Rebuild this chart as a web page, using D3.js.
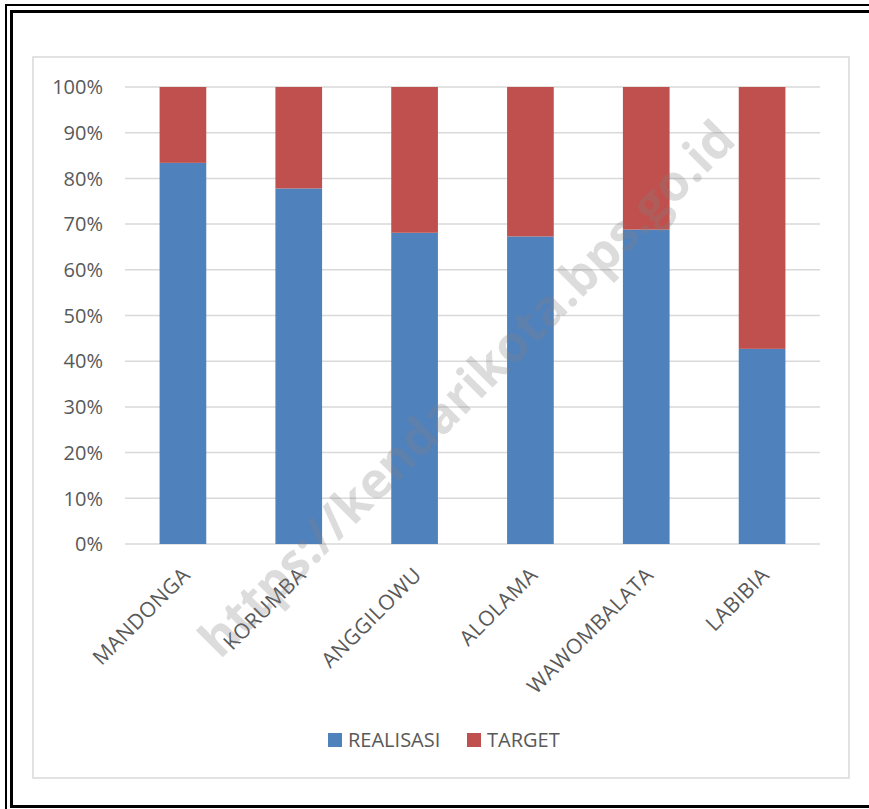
<!DOCTYPE html>
<html>
<head>
<meta charset="utf-8">
<script src="https://cdn.jsdelivr.net/npm/d3@7"></script>
<style>
  body { margin: 0; background: #fff; }
  svg { display: block; }
  text { font-family: "Open Sans", "Liberation Sans", sans-serif; }
</style>
</head>
<body>
<svg width="869" height="809"></svg>
<script>
// data (share of REALISASI in %, TARGET is the rest)
let categories = ["MANDONGA", "KORUMBA", "ANGGILOWU", "ALOLAMA", "WAWOMBALATA", "LABIBIA"];
let realisasi = [83.4, 77.8, 68.1, 67.3, 68.8, 42.7];
let target = realisasi.map(v => 100 - v);
let seriesNames = ["REALISASI", "TARGET"];
let seriesColors = ["#4F81BD", "#C0504D"];
let yTicks = [0, 10, 20, 30, 40, 50, 60, 70, 80, 90, 100];
let watermark = "https://kendarikota.bps.go.id";

let svg = d3.select("svg");

// double frame round the picture (right and bottom parts are cut off)
svg.append("rect").attr("x", 6).attr("y", 5).attr("width", 900).attr("height", 820)
  .attr("fill", "none").attr("stroke", "#000").attr("stroke-width", 2);
svg.append("rect").attr("x", 11.5).attr("y", 11.5).attr("width", 900).attr("height", 795)
  .attr("fill", "none").attr("stroke", "#000").attr("stroke-width", 3);

// chart area border
svg.append("rect").attr("x", 33).attr("y", 57).attr("width", 816).attr("height", 721)
  .attr("fill", "#fff").attr("stroke", "#d9d9d9").attr("stroke-width", 1.5);

let x = d3.scaleBand()
  .domain(categories)
  .range([125, 820])
  .paddingInner(0.597)
  .paddingOuter(0.2985);

let y = d3.scaleLinear()
  .domain([0, 100])
  .range([544, 87]);

// gridlines
svg.append("g")
  .selectAll("line")
  .data(yTicks)
  .enter()
  .append("line")
  .attr("x1", 125)
  .attr("x2", 820)
  .attr("y1", d => y(d))
  .attr("y2", d => y(d))
  .attr("stroke", "#d9d9d9")
  .attr("stroke-width", 1.5);

// y labels
svg.append("g")
  .selectAll("text")
  .data(yTicks)
  .enter()
  .append("text")
  .attr("x", 103)
  .attr("y", d => y(d))
  .attr("dy", "0.36em")
  .attr("text-anchor", "end")
  .attr("font-size", 20)
  .attr("fill", "#595959")
  .text(d => d + "%");

// stacked bars
let rows = categories.map((c, i) => ({cat: c, REALISASI: realisasi[i], TARGET: target[i]}));
let stacked = d3.stack().keys(seriesNames)(rows);

svg.append("g")
  .selectAll("g")
  .data(stacked)
  .enter()
  .append("g")
  .attr("fill", (d, i) => seriesColors[i])
  .selectAll("rect")
  .data(d => d)
  .enter()
  .append("rect")
  .attr("x", d => x(d.data.cat))
  .attr("width", x.bandwidth())
  .attr("y", d => y(d[1]))
  .attr("height", d => y(d[0]) - y(d[1]));

// category labels, rotated
svg.append("g")
  .selectAll("text")
  .data(categories)
  .enter()
  .append("text")
  .attr("transform", d => "translate(" + (x(d) + x.bandwidth() / 2 - 2) + ",566) rotate(-45)")
  .attr("text-anchor", "end")
  .attr("dy", "0.7em")
  .attr("font-size", 21)
  .attr("letter-spacing", 0.4)
  .attr("fill", "#595959")
  .text(d => d);

// legend
let legend = svg.append("g");
let legendX = [328, 467];
seriesNames.forEach((s, i) => {
  legend.append("rect")
    .attr("x", legendX[i]).attr("y", 733)
    .attr("width", 14).attr("height", 14)
    .attr("fill", seriesColors[i]);
  legend.append("text")
    .attr("x", legendX[i] + 20).attr("y", 740)
    .attr("dy", "0.36em")
    .attr("font-size", 20)
    .attr("fill", "#595959")
    .text(s);
});

// watermark
svg.append("text")
  .attr("transform", "translate(479,401) rotate(-45)")
  .attr("text-anchor", "middle")
  .attr("font-family", "Liberation Sans, Arial, sans-serif")
  .attr("font-weight", "bold")
  .attr("font-size", 50)
  .attr("fill", "#808080")
  .attr("fill-opacity", 0.28)
  .text(watermark);
</script>
</body>
</html>
